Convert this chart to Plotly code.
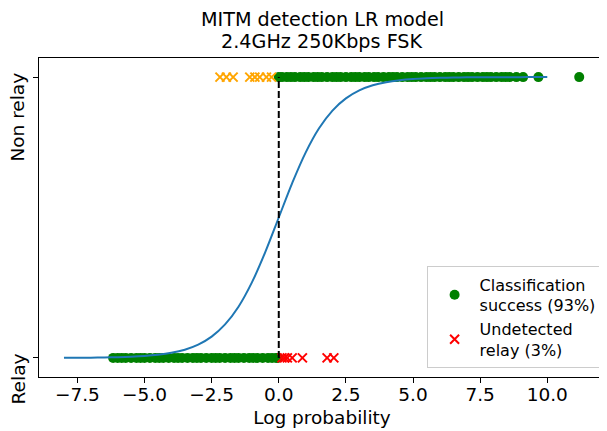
import plotly.graph_objects as go

# ---- data ----
green_top_x = [0.0, 0.12, 0.3, 0.45, 0.6, 0.8, 0.95, 1.1, 1.3, 1.45, 1.6, 1.8, 2.0, 2.15,
               2.3, 2.5, 2.7, 2.85, 3.0, 3.2, 3.35, 3.55, 3.7, 3.9, 4.1, 4.25, 4.4, 4.6,
               4.8, 4.95, 5.1, 5.3, 5.5, 5.65, 5.8, 6.0, 6.2, 6.35, 6.5, 6.7, 6.9, 7.05,
               7.2, 7.4, 7.6, 7.75, 7.9, 8.1, 8.3, 8.45, 8.6, 8.85, 9.1, 9.67, 11.19]
green_bottom_x = [-6.17, -6.0, -5.85, -5.7, -5.5, -5.3, -5.15, -5.0, -4.8, -4.6, -4.45,
                  -4.3, -4.1, -3.9, -3.75, -3.6, -3.4, -3.2, -3.05, -2.9, -2.7, -2.5,
                  -2.35, -2.2, -2.0, -1.8, -1.65, -1.5, -1.3, -1.1, -0.95, -0.8, -0.6,
                  -0.4, -0.25, -0.1, -0.03]
red_x = [0.12, 0.22, 0.32, 0.5, 0.88, 1.8, 2.05]
orange_x = [-2.19, -1.95, -1.70, -1.08, -0.89, -0.71, -0.46, -0.27]

curve_x = [-8, -7.5, -7, -6.5, -6, -5.5, -5, -4.5, -4, -3.5, -3, -2.5, -2, -1.5, -1, -0.5,
           0, 0.5, 1, 1.5, 2, 2.5, 3, 3.5, 4, 4.5, 5, 5.5, 6, 6.5, 7, 7.5, 8, 8.5, 9, 9.5, 10]
curve_y = [0.000335, 0.000553, 0.000911, 0.001501, 0.002473, 0.004070, 0.006693, 0.010987,
           0.017986, 0.029312, 0.047426, 0.075858, 0.119203, 0.182426, 0.268941, 0.377541,
           0.5, 0.622459, 0.731059, 0.817574, 0.880797, 0.924142, 0.952574, 0.970688,
           0.982014, 0.989013, 0.993307, 0.995930, 0.997527, 0.998499, 0.999089, 0.999447,
           0.999665, 0.999797, 0.999877, 0.999925, 0.999955]

threshold_x = [0, 0]
threshold_y = [0, 1]

x_tickvals = [-7.5, -5.0, -2.5, 0.0, 2.5, 5.0, 7.5, 10.0]
y_tickvals = [0, 1]
y_ticklabels = ["Relay", "Non relay"]

legend_green = "Classification<br>success (93%)"
legend_red = "Undetected<br>relay (3%)"
title_lines = ["MITM detection LR model", "2.4GHz 250Kbps FSK"]

FONT = "DejaVu Sans"
# the page body adds an 8px offset; the figure is sized to fill the window from there
FIG_W, FIG_H = 599, 423
M_L, M_R, M_T, M_B = 31.3, 1.5, 50.3, 54.3
PLOT_H = FIG_H - M_T - M_B

fig = go.Figure()

fig.add_trace(go.Scatter(
    x=green_top_x + green_bottom_x,
    y=[1] * len(green_top_x) + [0] * len(green_bottom_x),
    mode="markers", name=legend_green,
    marker=dict(color="green", size=10, symbol="circle", line=dict(width=0)),
))
fig.add_trace(go.Scatter(
    x=red_x, y=[0] * len(red_x), mode="markers", name=legend_red,
    marker=dict(symbol="x-thin", size=9, color="red", line=dict(color="red", width=2)),
))
fig.add_trace(go.Scatter(
    x=orange_x, y=[1] * len(orange_x), mode="markers", showlegend=False,
    marker=dict(symbol="x-thin", size=9, color="orange", line=dict(color="orange", width=2)),
))
fig.add_trace(go.Scatter(
    x=curve_x, y=curve_y, mode="lines", showlegend=False,
    line=dict(color="#1f77b4", width=2, shape="spline"),
))
fig.add_trace(go.Scatter(
    x=threshold_x, y=threshold_y, mode="lines", showlegend=False,
    line=dict(color="black", width=2, dash="7px,3px"),
))

for val, lab in zip(y_tickvals, y_ticklabels):
    fig.add_annotation(
        text=lab, textangle=-90, xref="paper", yref="y", x=-0.015, y=val,
        xanchor="right", yanchor="top", yshift=6, showarrow=False,
        font=dict(family=FONT, size=18.5, color="black"),
    )

# title lines as paper annotations (centre y in figure px)
for line, yc in zip(title_lines, [12.0, 34.0]):
    fig.add_annotation(
        text=line, xref="paper", yref="paper", x=0.5, y=1 + (M_T - yc) / PLOT_H,
        xanchor="center", yanchor="middle", showarrow=False, borderpad=0,
        font=dict(family=FONT, size=19.2, color="black"),
    )

fig.update_layout(
    width=FIG_W, height=FIG_H, autosize=False,
    margin=dict(l=M_L, r=M_R, t=M_T, b=M_B, pad=0, autoexpand=False),
    paper_bgcolor="white", plot_bgcolor="white",
    font=dict(family=FONT, size=18.5, color="black"),
    legend=dict(x=0.994, y=0.027, xanchor="right", yanchor="bottom",
                bgcolor="rgba(255,255,255,0.8)", bordercolor="#cccccc", borderwidth=1,
                itemwidth=40, indentation=2,
                font=dict(family=FONT, size=16, color="black")),
    showlegend=True,
)
fig.update_xaxes(
    range=[-8.93, 12.15], tickvals=x_tickvals, tickformat=".1f",
    showline=True, linecolor="black", linewidth=1, mirror=True,
    ticks="outside", ticklen=5, tickwidth=1, tickcolor="black",
    ticklabelstandoff=-4,
    showgrid=False, zeroline=False, automargin=False,
    title=dict(text="Log probability", standoff=6, font=dict(size=18.5)),
)
fig.update_yaxes(
    range=[-0.068, 1.068], tickvals=y_tickvals, ticktext=["", ""],
    showline=True, linecolor="black", linewidth=1, mirror=True,
    ticks="outside", ticklen=5, tickwidth=1, tickcolor="black",
    showgrid=False, zeroline=False, automargin=False,
)

fig.write_html("out.html")
